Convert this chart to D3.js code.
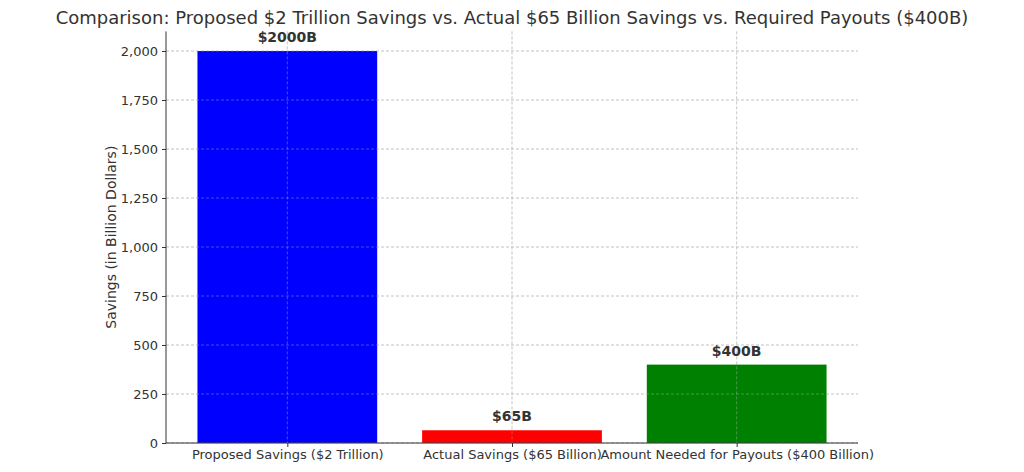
<!DOCTYPE html>
<html><head><meta charset="utf-8">
<script src="https://cdn.jsdelivr.net/npm/d3@7"></script>
<style>body{margin:0;background:#fff;font-family:"DejaVu Sans",sans-serif;}</style>
</head><body><svg id="c" width="1024" height="472"></svg>
<script>
const categories = ["Proposed Savings ($2 Trillion)", "Actual Savings ($65 Billion)", "Amount Needed for Payouts ($400 Billion)"];
const values = [2000, 65, 400];
const labels = ["$2000B", "$65B", "$400B"];
const colors = ["blue", "red", "green"];
const yTicks = [0, 250, 500, 750, 1000, 1250, 1500, 1750, 2000];

const svg = d3.select("#c");
const L = 166, R = 858, T = 31.4, B = 443;
const x = d3.scaleLinear().domain([-0.54, 2.54]).range([L, R]);
const y = d3.scaleLinear().domain([0, 2100]).range([B, T]);
const txt = "#333";

// grid
svg.append("g").selectAll("line").data(yTicks).join("line")
  .attr("x1", L).attr("x2", R).attr("y1", d => y(d)).attr("y2", d => y(d))
  .attr("stroke", "#ccc").attr("stroke-dasharray", "3,2").attr("stroke-width", 0.8);
svg.append("g").selectAll("line").data(categories).join("line")
  .attr("x1", (d,i) => x(i)).attr("x2", (d,i) => x(i)).attr("y1", T).attr("y2", B)
  .attr("stroke", "#ccc").attr("stroke-dasharray", "3,2").attr("stroke-width", 0.8);

// bars
svg.append("g").selectAll("rect").data(values).join("rect")
  .attr("x", (d,i) => x(i - 0.4)).attr("width", x(0.4) - x(-0.4))
  .attr("y", d => y(d)).attr("height", d => B - y(d))
  .attr("fill", (d,i) => colors[i]).attr("opacity", 1);
// redraw grid on top faintly (matplotlib grid over bars)
svg.append("g").selectAll("line").data(yTicks).join("line")
  .attr("x1", L).attr("x2", R).attr("y1", d => y(d)).attr("y2", d => y(d))
  .attr("stroke", "#bbb").attr("stroke-opacity", 0.5).attr("stroke-dasharray", "3,2").attr("stroke-width", 0.8);
svg.append("g").selectAll("line").data(categories).join("line")
  .attr("x1", (d,i) => x(i)).attr("x2", (d,i) => x(i)).attr("y1", T).attr("y2", B)
  .attr("stroke", "#bbb").attr("stroke-opacity", 0.5).attr("stroke-dasharray", "3,2").attr("stroke-width", 0.8);

// value labels
svg.append("g").selectAll("text").data(values).join("text")
  .attr("x", (d,i) => x(i)).attr("y", d => y(d) - 9)
  .attr("text-anchor", "middle").attr("font-size", 14).attr("font-weight", "bold").attr("fill", txt)
  .text((d,i) => labels[i]);

// axes
const ya = svg.append("g").attr("transform", `translate(${L},0)`)
  .call(d3.axisLeft(y).tickValues(yTicks).tickSize(4).tickPadding(4));
const xa = svg.append("g").attr("transform", `translate(0,${B})`)
  .call(d3.axisBottom(x).tickValues([0,1,2]).tickFormat(i => categories[i]).tickSize(4).tickPadding(3));
[ya, xa].forEach(a => {
  a.select(".domain").attr("stroke", "#333").attr("stroke-width", 1);
  a.selectAll(".tick line").attr("stroke", "#333");
  a.selectAll("text").attr("font-size", 13).attr("fill", txt).attr("font-family", "DejaVu Sans");
});
ya.select(".domain").attr("d", `M0,${B}V${T}`);
xa.select(".domain").attr("d", `M${L},0H${R}`);

svg.append("text").attr("transform", `translate(116,${(T+B)/2}) rotate(-90)`)
  .attr("text-anchor", "middle").attr("font-size", 14).attr("fill", txt).text("Savings (in Billion Dollars)");
svg.append("text").attr("x", 512).attr("y", 24).attr("text-anchor", "middle")
  .attr("font-size", 18).attr("fill", txt)
  .text("Comparison: Proposed $2 Trillion Savings vs. Actual $65 Billion Savings vs. Required Payouts ($400B)");
</script></body></html>
